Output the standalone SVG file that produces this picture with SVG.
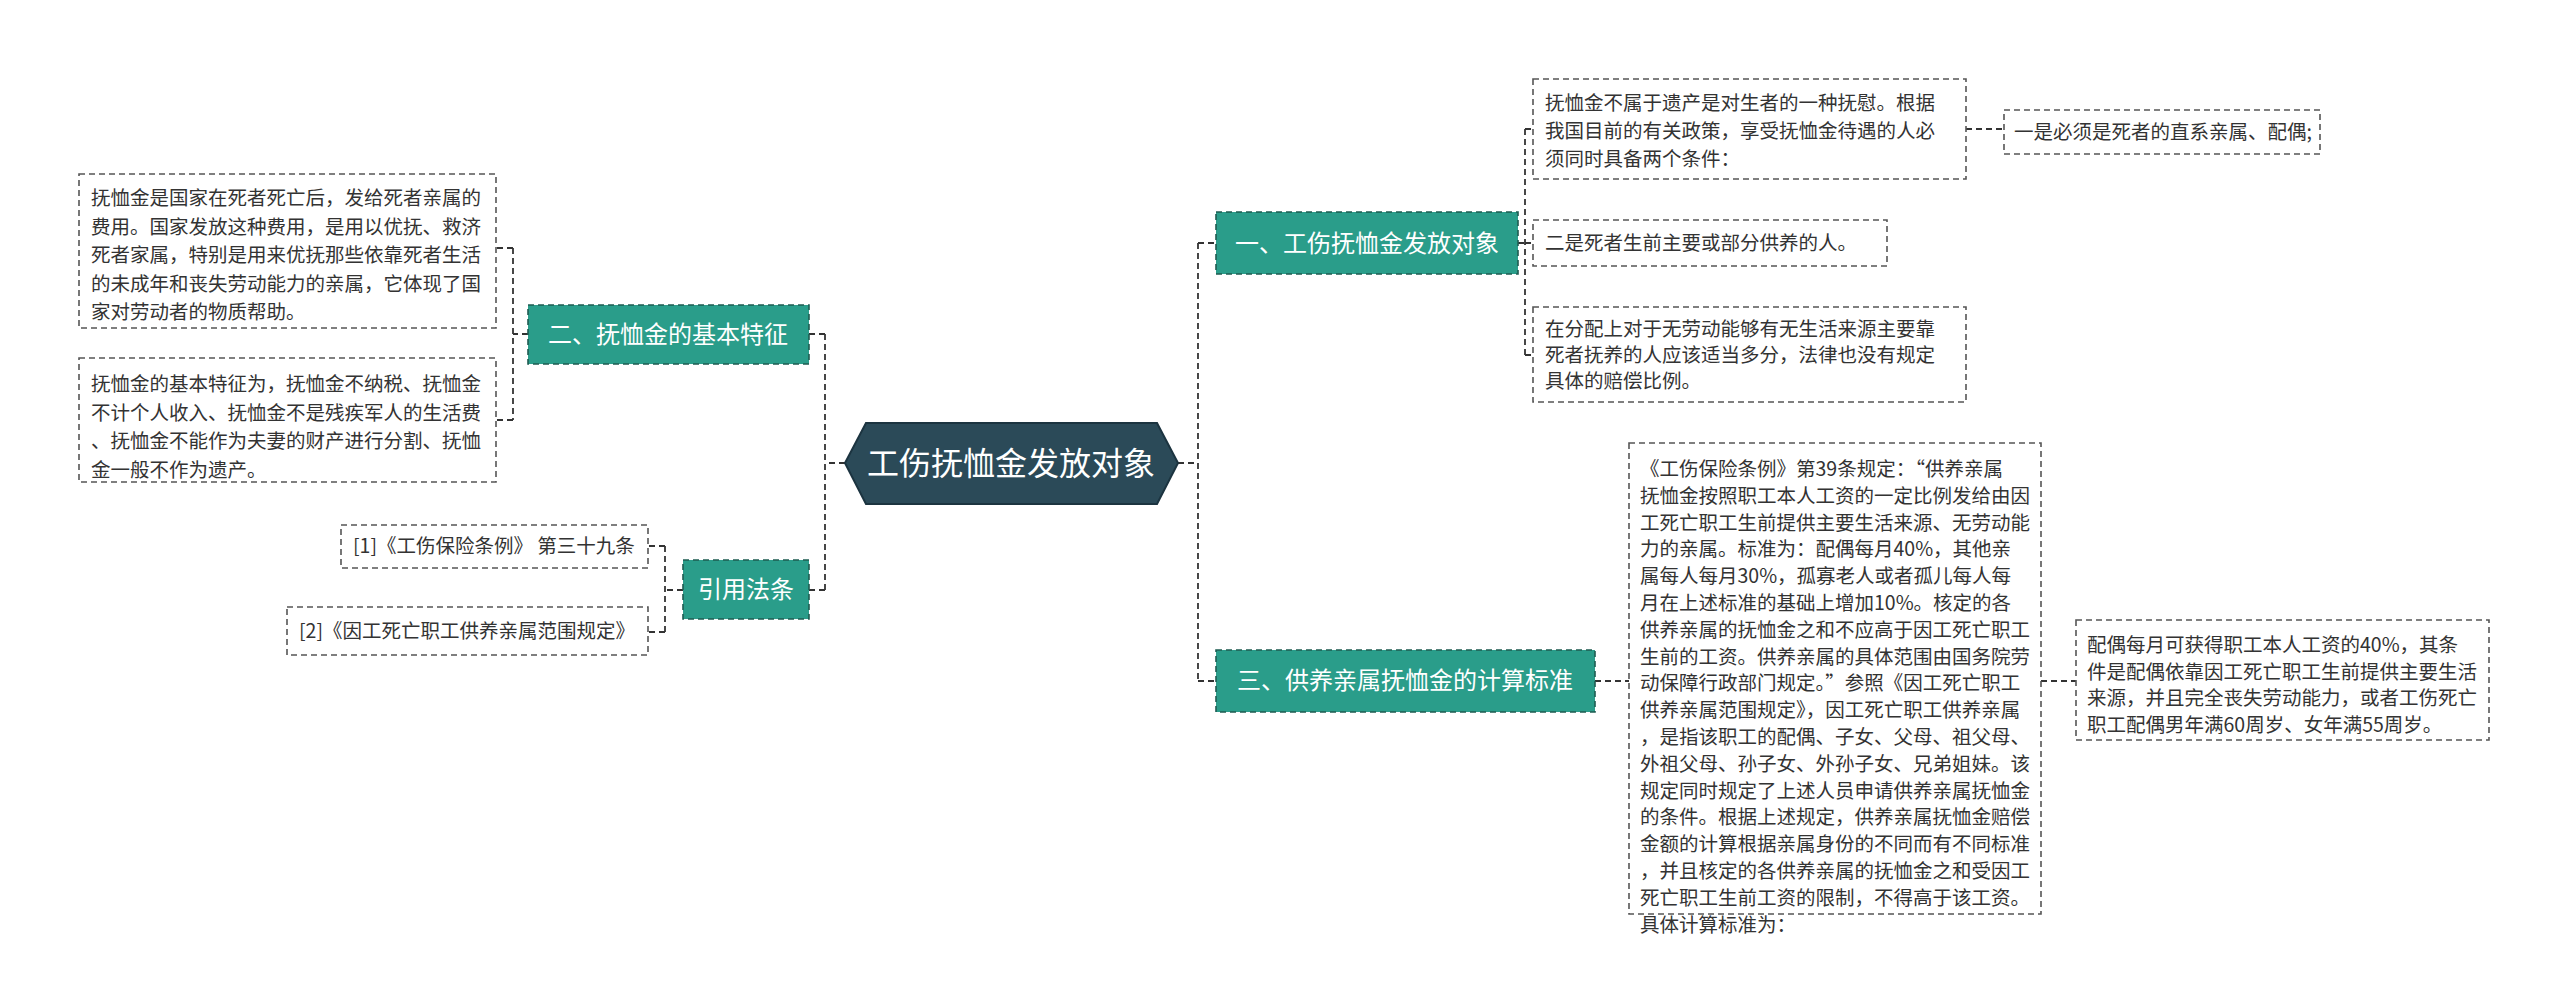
<svg xmlns="http://www.w3.org/2000/svg" width="2560" height="996" viewBox="0 0 2560 996">
<style>
text{font-family:"Noto Sans CJK SC","Noto Sans",sans-serif;}
.leaf rect{fill:#fff;stroke:#555;stroke-width:1.6;stroke-dasharray:6,4;}
.leaf text{font-size:19.5px;fill:#333;}
.br rect{fill:#2a9d8a;stroke:#1e5c52;stroke-width:1.6;stroke-dasharray:6,4;}
.br text{font-size:24px;fill:#fff;}
.con path{fill:none;stroke:#333;stroke-width:1.8;stroke-dasharray:6,4;}
</style>
<rect width="2560" height="996" fill="#fff"/>
<g class="con">
<path d="M845,463 H825 M825,334 V590 M825,334 H809 M825,590 H809"/>
<path d="M1178,463 H1198 M1198,243 V681 M1198,243 H1216 M1198,681 H1216"/>
<path d="M1518,243 H1525 M1525,129 V355 M1525,129 H1533 M1525,243 H1533 M1525,355 H1533"/>
<path d="M1966,129 H2004"/>
<path d="M528,334 H513 M513,248 V420 M513,248 H496 M513,420 H496"/>
<path d="M683,590 H665 M665,546 V632 M665,546 H648 M665,632 H648"/>
<path d="M1595,681 H1629 M2041,681 H2076"/>
</g>
<g id="center">
<polygon points="845,463 866,423 1157,423 1178,463 1157,504 866,504" fill="#2b4a58" stroke="#1c3440" stroke-width="2"/>
<text x="1011" y="475" font-size="32" fill="#fff" text-anchor="middle">工伤抚恤金发放对象</text>
</g>
<g id="b1" class="br"><rect x="1216" y="212" width="302" height="62"/><text x="1367" y="252" text-anchor="middle">一、工伤抚恤金发放对象</text></g>
<g id="b2" class="br"><rect x="528" y="305" width="281" height="59"/><text x="668" y="343" text-anchor="middle">二、抚恤金的基本特征</text></g>
<g id="b3" class="br"><rect x="683" y="560" width="126" height="59"/><text x="746" y="598" text-anchor="middle">引用法条</text></g>
<g id="b4" class="br"><rect x="1216" y="650" width="379" height="62"/><text x="1405" y="689" text-anchor="middle">三、供养亲属抚恤金的计算标准</text></g>
<g id="l1" class="leaf"><rect x="79" y="174" width="417" height="154"/>
<text x="91" y="205"><tspan x="91">抚恤金是国家在死者死亡后，发给死者亲属的</tspan><tspan x="91" dy="28.5">费用。国家发放这种费用，是用以优抚、救济</tspan><tspan x="91" dy="28.5">死者家属，特别是用来优抚那些依靠死者生活</tspan><tspan x="91" dy="28.5">的未成年和丧失劳动能力的亲属，它体现了国</tspan><tspan x="91" dy="28.5">家对劳动者的物质帮助。</tspan></text></g>
<g id="l2" class="leaf"><rect x="79" y="358" width="417" height="124"/>
<text x="91" y="391"><tspan x="91">抚恤金的基本特征为，抚恤金不纳税、抚恤金</tspan><tspan x="91" dy="28.5">不计个人收入、抚恤金不是残疾军人的生活费</tspan><tspan x="91" dy="28.5">、抚恤金不能作为夫妻的财产进行分割、抚恤</tspan><tspan x="91" dy="28.5">金一般不作为遗产。</tspan></text></g>
<g id="r1" class="leaf"><rect x="341" y="525" width="307" height="43"/><text x="353" y="553">[1]《工伤保险条例》 第三十九条</text></g>
<g id="r2" class="leaf"><rect x="287" y="607" width="361" height="48"/><text x="299" y="638">[2]《因工死亡职工供养亲属范围规定》</text></g>
<g id="a" class="leaf"><rect x="1533" y="79" width="433" height="100"/>
<text x="1545" y="110"><tspan x="1545">抚恤金不属于遗产是对生者的一种抚慰。根据</tspan><tspan x="1545" dy="28">我国目前的有关政策，享受抚恤金待遇的人必</tspan><tspan x="1545" dy="28">须同时具备两个条件：</tspan></text></g>
<g id="a1" class="leaf"><rect x="2004" y="110" width="316" height="44"/><text x="2014" y="139">一是必须是死者的直系亲属、配偶;</text></g>
<g id="bb" class="leaf"><rect x="1533" y="220" width="354" height="46"/><text x="1545" y="250">二是死者生前主要或部分供养的人。</text></g>
<g id="c" class="leaf"><rect x="1533" y="307" width="433" height="95"/>
<text x="1545" y="336"><tspan x="1545">在分配上对于无劳动能够有无生活来源主要靠</tspan><tspan x="1545" dy="26">死者抚养的人应该适当多分，法律也没有规定</tspan><tspan x="1545" dy="26">具体的赔偿比例。</tspan></text></g>
<g id="d" class="leaf"><rect x="1629" y="443" width="412" height="471"/>
<text x="1640" y="476"><tspan x="1640">《工伤保险条例》第39条规定：“供养亲属</tspan><tspan x="1640" dy="26.8">抚恤金按照职工本人工资的一定比例发给由因</tspan><tspan x="1640" dy="26.8">工死亡职工生前提供主要生活来源、无劳动能</tspan><tspan x="1640" dy="26.8">力的亲属。标准为：配偶每月40%，其他亲</tspan><tspan x="1640" dy="26.8">属每人每月30%，孤寡老人或者孤儿每人每</tspan><tspan x="1640" dy="26.8">月在上述标准的基础上增加10%。核定的各</tspan><tspan x="1640" dy="26.8">供养亲属的抚恤金之和不应高于因工死亡职工</tspan><tspan x="1640" dy="26.8">生前的工资。供养亲属的具体范围由国务院劳</tspan><tspan x="1640" dy="26.8">动保障行政部门规定。”参照《因工死亡职工</tspan><tspan x="1640" dy="26.8">供养亲属范围规定》，因工死亡职工供养亲属</tspan><tspan x="1640" dy="26.8">，是指该职工的配偶、子女、父母、祖父母、</tspan><tspan x="1640" dy="26.8">外祖父母、孙子女、外孙子女、兄弟姐妹。该</tspan><tspan x="1640" dy="26.8">规定同时规定了上述人员申请供养亲属抚恤金</tspan><tspan x="1640" dy="26.8">的条件。根据上述规定，供养亲属抚恤金赔偿</tspan><tspan x="1640" dy="26.8">金额的计算根据亲属身份的不同而有不同标准</tspan><tspan x="1640" dy="26.8">，并且核定的各供养亲属的抚恤金之和受因工</tspan><tspan x="1640" dy="26.8">死亡职工生前工资的限制，不得高于该工资。</tspan><tspan x="1640" dy="26.8">具体计算标准为：</tspan></text></g>
<g id="e" class="leaf"><rect x="2076" y="620" width="413" height="120"/>
<text x="2087" y="652"><tspan x="2087">配偶每月可获得职工本人工资的40%，其条</tspan><tspan x="2087" dy="26.5">件是配偶依靠因工死亡职工生前提供主要生活</tspan><tspan x="2087" dy="26.5">来源，并且完全丧失劳动能力，或者工伤死亡</tspan><tspan x="2087" dy="26.5">职工配偶男年满60周岁、女年满55周岁。</tspan></text></g>
</svg>
